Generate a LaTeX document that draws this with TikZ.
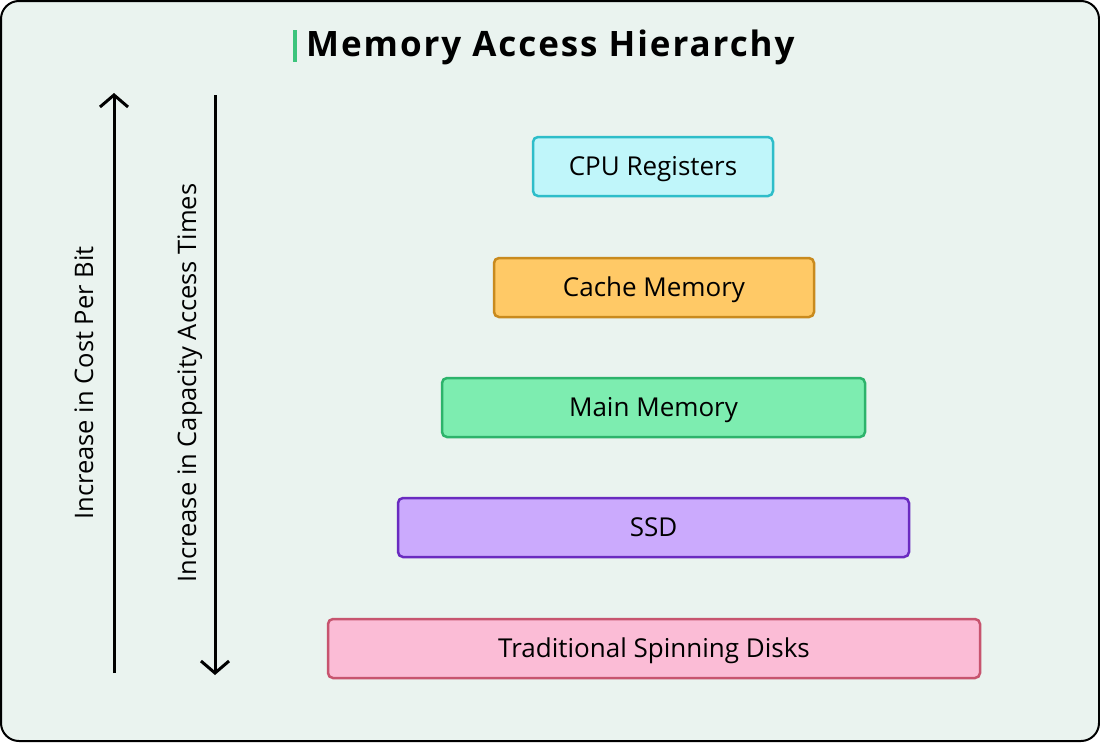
\documentclass[tikz,border=0pt]{standalone}
\usepackage{fontspec}
\setmainfont{Open Sans}
\usetikzlibrary{arrows.meta}
\definecolor{bg}{HTML}{EAF3EF}
\definecolor{c1f}{HTML}{C0F6FA}\definecolor{c1d}{HTML}{2EBDC9}
\definecolor{c2f}{HTML}{FFC966}\definecolor{c2d}{HTML}{C98A1E}
\definecolor{c3f}{HTML}{7DEDB0}\definecolor{c3d}{HTML}{2DB36B}
\definecolor{c4f}{HTML}{CBAAFD}\definecolor{c4d}{HTML}{6A2BC0}
\definecolor{c5f}{HTML}{FBBCD6}\definecolor{c5d}{HTML}{C7546F}
\definecolor{tbar}{HTML}{3CC47C}
\tikzset{
  level/.style={draw, line width=2.5pt, rounded corners=5pt, minimum height=59pt, inner sep=0pt, text height=18.5pt, text depth=0pt, font=\fontsize{26}{30}\selectfont, text=black},
  axis/.style={line width=3pt, -{Straight Barb[length=12pt,width=28pt,line width=3pt]}},
  axlabel/.style={rotate=90, inner sep=0pt, text height=18.2pt, text depth=0pt, font=\fontsize{25.5}{30}\selectfont},
}
\begin{document}
\begin{tikzpicture}[x=1pt,y=-1pt]
\useasboundingbox (0,0) rectangle (1100,742);
\draw[line width=2pt, fill=bg, rounded corners=18pt] (1,1) rectangle (1099,741);
\fill[tbar] (293,30) rectangle (297,62);
\node[anchor=base west, font=\fontsize{35}{40}\bfseries\selectfont\addfontfeatures{LetterSpace=5.5}, inner sep=0pt] (title) at (306,56) {Memory Access Hierarchy};
\coordinate (a1s) at (114,673); \coordinate (a1e) at (114,93);
\coordinate (a2s) at (215,95); \coordinate (a2e) at (215,675);
\draw[axis] (a1s) -- (a1e);
\draw[axis] (a2s) -- (a2e);
\node[axlabel] (l1) at (84,383) {Increase in Cost Per Bit};
\node[axlabel] (l2) at (187,383) {Increase in Capacity Access Times};
\node[level, fill=c1f, draw=c1d, minimum width=240pt] (cpu) at (653,166.5) {CPU Registers};
\node[level, fill=c2f, draw=c2d, minimum width=320pt] (cache) at (654,287.5) {Cache Memory};
\node[level, fill=c3f, draw=c3d, minimum width=423pt] (main) at (653.5,407.5) {Main Memory};
\node[level, fill=c4f, draw=c4d, minimum width=511pt] (ssd) at (653.5,527.5) {SSD};
\node[level, fill=c5f, draw=c5d, minimum width=652pt] (disk) at (654,648.5) {Traditional Spinning Disks};
\end{tikzpicture}
\end{document}
